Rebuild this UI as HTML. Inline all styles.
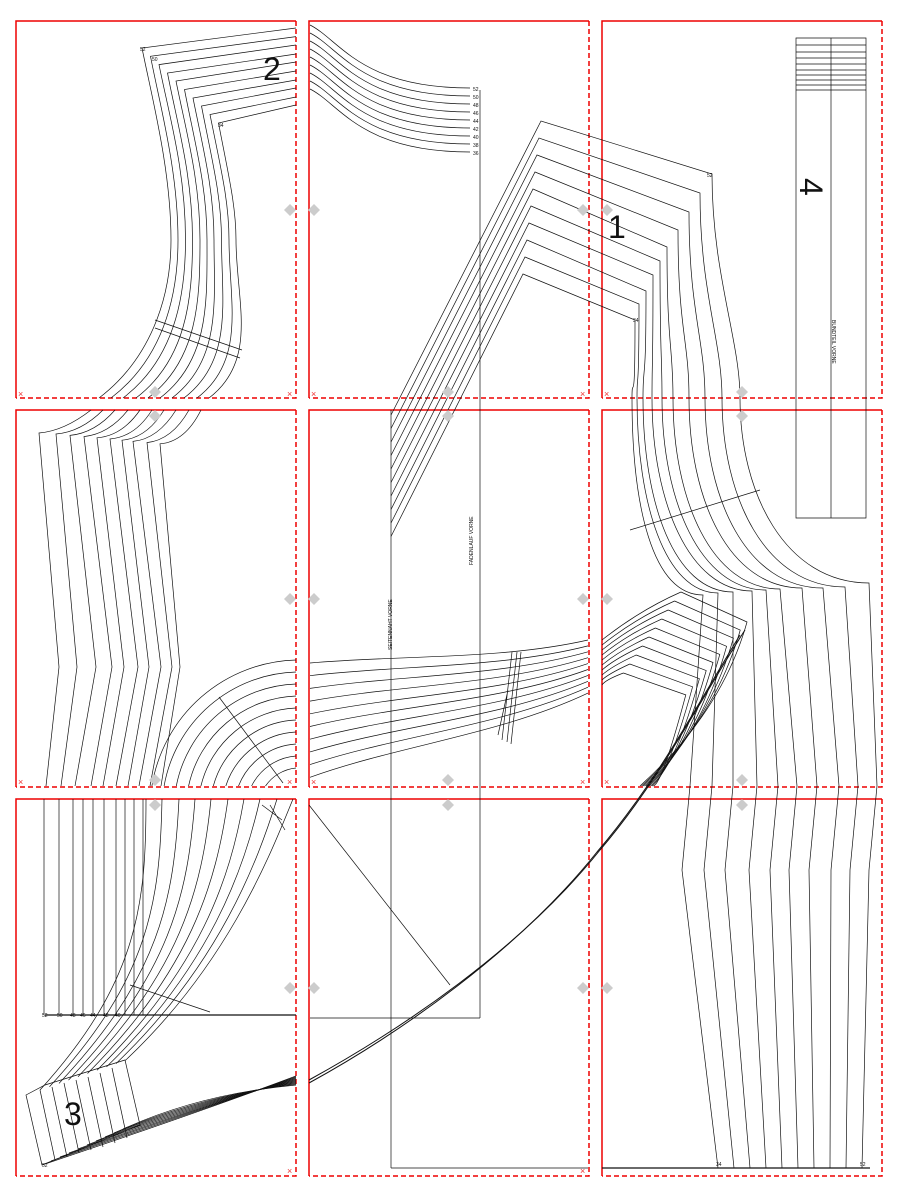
<!DOCTYPE html>
<html><head><meta charset="utf-8"><style>
html,body{margin:0;padding:0;background:#fff}
svg{display:block}
text{font-family:"Liberation Sans",sans-serif}
</style></head><body>
<svg width="900" height="1200" viewBox="0 0 900 1200" xmlns="http://www.w3.org/2000/svg">
<defs>
<g id="pg">
<path d="M0 377V0H280" fill="none" stroke="#e00" stroke-width="1.5"/>
<path d="M280 0V377H0" fill="none" stroke="#e00" stroke-width="1.5" stroke-dasharray="5,3"/>
</g>
</defs>
<use href="#pg" x="16" y="21"/><use href="#pg" x="309" y="21"/><use href="#pg" x="602" y="21"/>
<use href="#pg" x="16" y="410"/><use href="#pg" x="309" y="410"/><use href="#pg" x="602" y="410"/>
<use href="#pg" x="16" y="799"/><use href="#pg" x="309" y="799"/><use href="#pg" x="602" y="799"/>

<g fill="none" stroke="#111" stroke-width="0.7">
<!-- page1 -->
<path d="M296 28 L142 48 C152 98 171 170 171 240 C171 300 149 360 99 398"/>
<path d="M296 36.6 L150.5 56.3 C160 106 178 170 178 240 C178 300 161 360 111 398"/>
<path d="M296 45 L159 64.6 C169 115 185.5 170 185.5 240 C185.5 300 173 360 123 398"/>
<path d="M296 54 L167.5 73 C177 123 192.5 175 192.5 240 C192.5 300 186 360 136 398"/>
<path d="M296 62 L176 81 C186 131 200 180 200 240 C200 300 198 360 148 398"/>
<path d="M296 71 L184.5 89.5 C194 140 207 185 207 240 C207 300 210 360 160 398"/>
<path d="M296 80 L193 98 C203 148 214 190 214 240 C214 300 222 360 172 398"/>
<path d="M296 88 L201.5 106 C211 156 221.5 195 221.5 240 C221.5 300 234 360 184 398"/>
<path d="M296 97 L210 114.5 C220 165 229 200 229 240 C229 300 247 360 197 398"/>
<path d="M296 105 L218.5 123 C228 173 236 205 236 240 C236 300 259 360 209 398"/>
<path d="M155 320 L242 350 M155 328 L240 358"/>
<!-- page2 top curves -->
<g id="c2"><path d="M310 25 C340 40 360 88 470 88"/></g>
<use href="#c2" y="8"/><use href="#c2" y="16"/><use href="#c2" y="24"/><use href="#c2" y="32"/><use href="#c2" y="40"/><use href="#c2" y="48"/><use href="#c2" y="56"/><use href="#c2" y="64"/>
<path d="M480 90 V1018 M391 410 V1168 M391 1168 H588 M310 1018 H480"/>
<!-- chevron family -->
<path d="M391 415 L541 121 L712 174 C712 274 740 340 740 398 C740 493 785 583 869 583 L877 786 L869 870 L862 1168"/>
<path d="M391 428.5 L539 138 L700 193 C700 293 722 340 722 398 C722 497 765 587 845 587 L858 786 L850 870 L846 1168"/>
<path d="M391 442 L537 155 L689 212 C689 312 705 340 705 398 C705 498 746 588 823 588 L839 786 L831 870 L830 1168"/>
<path d="M391 455.5 L535 172 L678 230 C678 330 689 340 689 398 C689 498 728 588 802 588 L817 786 L809 870 L814 1168"/>
<path d="M391 469 L533 189 L667 247 C667 347 673 345 673 398 C673 499 711 589 780 589 L797 786 L789 870 L798 1168"/>
<path d="M391 482.5 L531 206 L660 261 C660 361 662 350 662 398 C662 500 700 590 766 590 L778 786 L770 870 L782 1168"/>
<path d="M391 496 L529 223 L653 275 C653 375 652 355 652 398 C652 501 689 591 752 591 L757 786 L749 870 L766 1168"/>
<path d="M391 509.5 L527 240 L646 291 C646 391 643 360 643 398 C643 502 674 592 733 592 L733 786 L725 870 L750 1168"/>
<path d="M391 523 L525 257 L639 304 C639 404 637 365 637 398 C637 503 665 593 718 593 L712 786 L704 870 L734 1168"/>
<path d="M391 536.5 L523 274 L635 320 C635 420 632 370 632 398 C632 505 652 595 703 595 L690 786 L682 870 L718 1168"/>
<!-- rect page3 -->
<path d="M796 38 V518 H866 V38 Z M831 38 V518"/>
<path d="M796 45H866M796 52H866M796 58H866M796 64H866M796 70H866M796 75H866M796 80H866M796 85H866M796 90H866"/>
<path d="M630 530 L760 490"/>
<!-- row2 left -->
<path d="M91 410 Q64 431 39 433 L59 667 L46 786"/>
<path d="M103 410 Q81 432 56 434 L77 667 L61 786"/>
<path d="M115 410 Q95 433 70 435.4 L96 667 L75 786"/>
<path d="M128 410 Q109 434 84 436.6 L112 667 L91 786"/>
<path d="M140 410 Q122 436 97 437.8 L124 667 L103 786"/>
<path d="M152 410 Q135 437 110 439 L138 667 L116 786"/>
<path d="M164 410 Q147 438 122 440.2 L149 667 L128 786"/>
<path d="M176 410 Q158 439 133 441.4 L161 667 L139 786"/>
<path d="M189 410 Q172 440 147 442.6 L172 667 L150 786"/>
<path d="M201 410 Q185 442 160 443.8 L180 667 L161 786"/>
<!-- row2 left arcs -->
<path d="M151.9 786 A150 150 0 0 1 296 660"/>
<path d="M164.1 786 A138 138 0 0 1 296 672"/>
<path d="M176.3 786 A126 126 0 0 1 296 684"/>
<path d="M188.6 786 A114 114 0 0 1 296 696"/>
<path d="M200.9 786 A102 102 0 0 1 296 708"/>
<path d="M213.3 786 A90 90 0 0 1 296 720"/>
<path d="M225.8 786 A78 78 0 0 1 296 732"/>
<path d="M238.5 786 A66 66 0 0 1 296 744"/>
<path d="M251.6 786 A54 54 0 0 1 296 756"/>
<path d="M265.5 786 A42 42 0 0 1 296 768"/>
<path d="M219 697 L283 783"/>
<!-- row2 mid S curves -->
<path d="M310 663 C400 655 500 660 588 640"/>
<path d="M310 675.7 C400 665 500 668.3 588 645.9"/>
<path d="M310 688.4 C400 675 500 676.6 588 651.8"/>
<path d="M310 701.1 C400 685 500 684.9 588 657.7"/>
<path d="M310 713.8 C400 695 500 693.2 588 663.6"/>
<path d="M310 726.5 C400 705 500 701.5 588 669.5"/>
<path d="M310 739.2 C400 715 500 709.8 588 675.4"/>
<path d="M310 751.9 C400 725 500 718.1 588 681.3"/>
<path d="M310 764.6 C400 735 500 726.4 588 687.2"/>
<path d="M310 777.3 C400 745 500 734.7 588 693.1"/>
<path d="M512 652 L502 740 M517 652 L507 742 M521 652 L511 744 M508 690 L498 735"/>
<!-- row2 right fans -->
<path d="M681 592 L747 622 Q722 712 640 786 M681 592 Q640 610 602 640"/>
<path d="M674.6 601 L740.2 630.1 Q715 720 641.5 786 M674.6 601 Q636 618 602 645"/>
<path d="M668.2 610 L733.4 638.2 Q708 728 643 786 M668.2 610 Q632 626 602 650"/>
<path d="M661.8 619 L726.6 646.3 Q702 736 644.5 786 M661.8 619 Q628 634 602 655"/>
<path d="M655.4 628 L719.8 654.4 Q695 744 646 786 M655.4 628 Q624 642 602 660"/>
<path d="M649 637 L713 662.5 Q688 752 647.5 786 M649 637 Q620 650 602 665"/>
<path d="M642.6 646 L706.2 670.6 Q681 760 649 786 M642.6 646 Q616 658 602 670"/>
<path d="M636.2 655 L699.4 678.7 Q675 768 650.5 786 M636.2 655 Q612 666 602 675"/>
<path d="M629.8 664 L692.6 686.8 Q668 776 652 786 M629.8 664 Q608 674 602 680"/>
<path d="M623.4 673 L685.8 694.9 Q662 784 653.5 786 M623.4 673 Q605 680 602 685"/>
<!-- big arc -->
<g stroke-width="1"><path d="M745 630 C700 700 660 780 600 850 C520 950 400 1030 309 1080"/><path d="M740 635 C697 705 657 782 597 852 C518 951 400 1033 309 1083"/></g>
<path d="M296 1076 Q200 1112 42 1165"/><path d="M296 1077 Q200 1110 51 1161"/><path d="M296 1078 Q200 1108 60 1157"/><path d="M296 1079 Q200 1106 69 1153"/><path d="M296 1080 Q200 1104 78 1149"/><path d="M296 1081 Q200 1102 87 1145"/><path d="M296 1082 Q200 1100 96 1141"/><path d="M296 1083 Q200 1098 105 1137"/><path d="M296 1084 Q200 1096 114 1133"/><path d="M296 1085 Q200 1094 123 1129"/>
<path d="M309 805 L450 985"/>
<!-- row3 left straight -->
<path d="M44 799V1015M59 799V1015M73 799V1015M83 799V1015M93 799V1015M104 799V1015M116 799V1015M125 799V1015M134 799V1015M143 799V1015"/>
<path d="M45 1015 H296" stroke-width="1.3"/>
<!-- row3 left S curves -->
<path d="M146 799 C146 900 140 980 40 1090"/>
<path d="M162 799 C160 900 150 978 49.5 1086.7"/>
<path d="M179 799 C174 900 160 976 59 1083.4"/>
<path d="M195 799 C188 895 170 974 68.5 1080.1"/>
<path d="M211 799 C202 890 180 972 78 1076.8"/>
<path d="M228 799 C216 885 190 970 87.5 1073.5"/>
<path d="M244 799 C230 880 200 968 97 1070.2"/>
<path d="M260 799 C244 870 210 966 106.5 1066.9"/>
<path d="M277 799 C258 860 220 964 116 1063.6"/>
<path d="M293 799 C272 850 230 962 125.5 1060.3"/>
<path d="M130 985 L210 1012 M270 805 L285 830 M262 805 L282 820"/>
<path d="M26 1095 L45 1085 L125 1060 L140 1125 L42 1165 Z"/>
<path d="M40 1090 L55 1160 M52 1087 L67 1157 M64 1083 L79 1153 M76 1080 L91 1150 M88 1077 L103 1147 M100 1073 L115 1143 M112 1068 L127 1138"/>
<path d="M602 1168 H870" stroke-width="1.2"/>
</g>

<g font-size="5" fill="#111">
<text x="140" y="51">52</text><text x="152" y="61">50</text><text x="218" y="127">34</text>
<text x="473" y="91">52</text><text x="473" y="99">50</text><text x="473" y="107">48</text><text x="473" y="115">46</text><text x="473" y="123">44</text><text x="473" y="131">42</text><text x="473" y="139">40</text><text x="473" y="147">38</text><text x="473" y="155">36</text>
<text x="707" y="177">52</text><text x="633" y="322">34</text>
<text x="42" y="1017">52</text><text x="57" y="1017">50</text><text x="70" y="1017">48</text><text x="80" y="1017">46</text><text x="90" y="1017">44</text><text x="103" y="1017">42</text><text x="115" y="1017">40</text>
<text x="42" y="1167">52</text><text x="716" y="1166">34</text><text x="860" y="1166">52</text>
<text transform="translate(392,650) rotate(-90)">SEITENNAHT VORNE</text>
<text transform="translate(473,565) rotate(-90)">FADENLAUF VORNE</text>
<text transform="translate(832,320) rotate(90)">BUNDTEIL VORNE</text>
</g>
<g font-size="32" fill="#111">
<text x="263" y="80">2</text><text x="608" y="238">1</text><text x="64" y="1125">3</text>
<text x="780" y="178" transform="rotate(90 790 188)">4</text>
</g>
<g fill="#ccc">
<path d="M290 204l6 6-6 6-6-6z"/><path d="M314 204l6 6-6 6-6-6z"/><path d="M583 204l6 6-6 6-6-6z"/><path d="M607 204l6 6-6 6-6-6z"/>
<path d="M155 386l6 6-6 6-6-6z"/><path d="M448 386l6 6-6 6-6-6z"/><path d="M742 386l6 6-6 6-6-6z"/>
<path d="M155 410l6 6-6 6-6-6z"/><path d="M448 410l6 6-6 6-6-6z"/><path d="M742 410l6 6-6 6-6-6z"/>
<path d="M290 593l6 6-6 6-6-6z"/><path d="M314 593l6 6-6 6-6-6z"/><path d="M583 593l6 6-6 6-6-6z"/><path d="M607 593l6 6-6 6-6-6z"/>
<path d="M155 774l6 6-6 6-6-6z"/><path d="M448 774l6 6-6 6-6-6z"/><path d="M742 774l6 6-6 6-6-6z"/>
<path d="M155 799l6 6-6 6-6-6z"/><path d="M448 799l6 6-6 6-6-6z"/><path d="M742 799l6 6-6 6-6-6z"/>
<path d="M290 982l6 6-6 6-6-6z"/><path d="M314 982l6 6-6 6-6-6z"/><path d="M583 982l6 6-6 6-6-6z"/><path d="M607 982l6 6-6 6-6-6z"/>
</g>
<g font-size="9" fill="#e33"><text x="18" y="397">×</text><text x="287" y="397">×</text><text x="311" y="397">×</text><text x="580" y="397">×</text><text x="604" y="397">×</text><text x="18" y="785">×</text><text x="287" y="785">×</text><text x="311" y="785">×</text><text x="580" y="785">×</text><text x="604" y="785">×</text><text x="287" y="1174">×</text><text x="580" y="1174">×</text></g>
</svg>
</body></html>
